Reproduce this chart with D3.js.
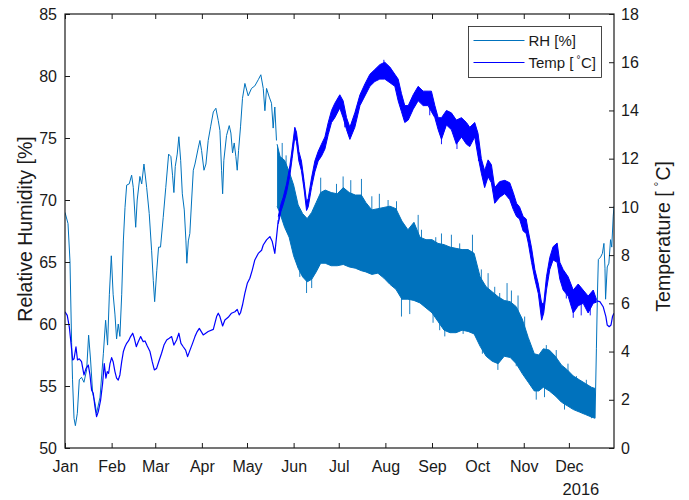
<!DOCTYPE html>
<html>
<head>
<meta charset="utf-8">
<script src="https://cdn.jsdelivr.net/npm/d3@7"></script>
<style>
  body { margin: 0; background: #fff; }
  text { font-family: "Liberation Sans", Arial, Helvetica, sans-serif; fill: #1a1a1a; }
</style>
</head>
<body>
<svg id="chart" width="689" height="500"></svg>
<script>
// all days are counted from 1 Jan 2016 (day 0)

// RH, thin part Jan - mid May
const rhDays = [0, 2, 3.3, 4.4, 5, 6, 6.9, 8.2, 9.5, 11, 12.6, 14.4, 15.7, 17, 18.4, 20, 21, 23.3, 25.5, 27,
  28.3, 29.5, 30.8, 32, 33.2, 34.3, 35.4, 36.5, 37.7, 38.8, 39.9, 41, 42.7, 44.3, 45.4, 47, 48, 49.8, 51, 52.5,
  54.3, 56, 57.6, 58.7, 59.6, 61, 62.2, 63.5, 65.3, 67, 68.9, 70.4, 71.5, 72.4, 73.3, 74.6, 75.7, 76.9, 78, 79.3,
  80.4, 81, 82, 83, 84.2, 85.3, 86.4, 88.6, 89.7, 90.8, 92.4, 93.7, 95.2, 96.8, 98.6, 100.3, 101.9, 103, 104.1, 104.8,
  105.6, 107.4, 109.2, 110.3, 111.4, 112.5, 113.6, 114.5, 115.4, 116.7, 118, 119.6, 121.8, 124, 126.2, 128.5, 130.2, 131.8, 132.9, 134,
  135.8, 137.3, 138.4, 139.5, 140.6];
const rhValues = [69.0, 68.1, 65.1, 58.5, 55.5, 52.4, 51.8, 52.8, 55.5, 55.7, 55.3, 56.3, 59.1, 57.1, 54.4, 53.6, 52.8, 54.1, 57.6, 60.3,
  58.3, 62.4, 65.5, 62.4, 60.8, 58.8, 60.0, 59.0, 62.4, 66.7, 69.4, 71.2, 71.3, 72.0, 71.0, 67.8, 70.0, 71.9, 71.3, 72.9,
  71.0, 68.9, 65.9, 63.5, 61.8, 64.3, 66.2, 66.2, 68.6, 71.0, 73.7, 73.5, 72.0, 70.6, 72.7, 73.7, 75.1, 73.2, 70.5, 69.2,
  66.7, 64.9, 66.7, 67.3, 70.0, 72.4, 72.9, 74.2, 74.8, 74.0, 72.4, 72.9, 74.8, 75.9, 77.1, 77.4, 76.4, 75.6, 72.4, 70.5,
  73.2, 75.2, 76.0, 75.4, 73.8, 74.6, 73.5, 72.4, 74.0, 75.9, 78.2, 79.4, 78.4, 79.0, 79.2, 79.7, 80.1, 79.0, 77.2, 79.0,
  78.3, 77.8, 75.8, 77.5, 74.8];

// RH, daily swing band late May - Dec (upper / lower envelope)
const rhBandDays = [141, 143, 146, 149, 152, 155, 158, 161, 164, 167, 170, 173, 177, 181, 185, 189, 193, 197, 200, 204,
  208, 212, 216, 220, 224, 228, 232, 236, 240, 244, 248, 252, 256, 260, 264, 268, 272, 276, 280, 284,
  288, 292, 296, 300, 304, 308, 312, 315, 318, 322, 326, 330, 334, 338, 342, 346, 350, 352.4];
const rhBandHigh = [74.5, 73.5, 73.2, 72.3, 71.2, 69.6, 68.9, 68.5, 69.0, 69.8, 70.6, 70.8, 70.6, 70.5, 71.0, 70.6, 70.4, 70.4, 69.8, 69.2,
  69.3, 69.4, 69.5, 69.3, 68.3, 67.6, 68.2, 67.0, 66.8, 66.8, 66.5, 66.4, 66.2, 66.1, 66.0, 66.0, 65.7, 63.8, 63.0, 62.6,
  62.2, 61.9, 61.8, 61.4, 60.4, 58.9, 57.6, 57.5, 58.0, 57.9, 57.4, 56.7, 56.3, 55.8, 55.5, 55.2, 54.9, 54.8];
const rhBandLow = [69.5, 68.9, 67.8, 67.0, 65.5, 64.5, 63.8, 63.4, 63.6, 64.2, 64.9, 64.9, 64.7, 64.7, 64.8, 64.6, 64.5, 64.3, 64.2, 64.0,
  64.1, 63.7, 63.2, 62.8, 62.0, 62.0, 61.9, 61.7, 61.3, 60.9, 60.2, 59.5, 59.3, 59.3, 59.5, 59.4, 59.2, 58.2, 57.4, 57.0,
  56.8, 57.4, 57.3, 56.8, 56.0, 55.3, 54.6, 54.6, 54.9, 54.6, 54.2, 53.7, 53.4, 53.1, 52.9, 52.7, 52.5, 52.4];

// RH, single extreme excursions sticking out of the band
const rhSpikeDays = [144.4, 147, 156.1, 160.6, 164, 170, 180.5, 184.9, 190, 197.1, 204, 209, 214.8, 220.4, 223.7, 229.2, 234.8, 237, 244.7, 246.5,
  249.1, 250.3, 252.5, 256.9, 262.4, 264.7, 270.9, 276.8, 277.5, 281.3, 285.7, 287.8, 289, 293.9, 296.8, 300, 301.2, 305.6, 313.3, 318.8,
  320, 326.6, 332.1, 334.4, 340, 346.6, 350];
const rhSpikeValues = [74.6, 73.6, 63.8, 62.5, 62.9, 71.8, 71.3, 71.9, 71.6, 71.7, 70.3, 70.5, 70.0, 69.9, 60.6, 60.8, 68.8, 67.6, 60.1, 67.0,
  59.5, 67.3, 59.0, 67.2, 66.5, 59.2, 67.2, 64.4, 57.6, 64.1, 63.0, 56.3, 62.5, 63.3, 62.7, 56.6, 62.3, 60.6, 53.9, 54.1,
  58.3, 57.9, 53.1, 56.8, 55.8, 55.5, 52.4];

// RH, thin part end of Dec
const rhEndDays = [352.4, 353.3, 354, 354.6, 356.1, 357.3, 358.3, 359, 359.4, 360.5, 361.6, 362.7, 363.5, 364.5, 365];
const rhEndValues = [52.4, 58.0, 62.5, 65.2, 65.4, 65.7, 66.5, 64.5, 62.0, 64.6, 64.9, 66.8, 66.2, 68.7, 69.5];

// Temperature, thin part Jan - mid May
const tempDays = [0, 1.5, 2.9, 4, 5.1, 6, 7.3, 8.3, 9.5, 11, 12.6, 14, 15.5, 16.6, 17.7, 18.8, 19.9, 21, 22.1, 23.7,
  25, 26.1, 27.2, 28.1, 29, 29.9, 31, 32, 33.2, 34.3, 35.4, 36.5, 37.7, 38.8, 39.9, 41, 42.3, 43.6, 45, 46.1,
  47.4, 48.7, 50.3, 52, 53.2, 54.7, 56.5, 58, 59.4, 60.9, 62.7, 64.2, 65.8, 67.6, 69.3, 70.9, 72.4, 74.2, 75.7, 77.1,
  78.6, 80.2, 81.5, 83.1, 84.8, 86.4, 87.9, 89.3, 91.9, 95.2, 98.6, 100.8, 101.9, 103, 104.8, 106.3, 108.5, 110.7, 113, 114.5,
  115.8, 116.7, 118, 119.6, 121.2, 122.9, 124.5, 126.2, 128.5, 130.7, 131.8, 134, 136.2, 137.8, 139.5, 141.8];
const tempValues = [5.65, 5.5, 5.0, 4.34, 3.65, 3.7, 4.2, 3.65, 3.7, 3.58, 3.03, 3.3, 3.44, 3.03, 2.4, 2.27, 1.71, 1.3, 1.5, 2.0,
  2.68, 3.5, 2.9, 3.17, 3.1, 3.5, 3.75, 3.58, 3.17, 2.9, 2.82, 3.03, 3.58, 4.0, 4.2, 4.34, 4.45, 4.62, 4.76, 4.55,
  4.2, 4.41, 4.62, 4.41, 4.44, 4.23, 4.0, 3.58, 3.24, 3.3, 3.65, 3.93, 4.27, 4.48, 4.55, 4.62, 4.27, 4.48, 4.76, 4.34,
  4.2, 4.06, 3.79, 4.06, 4.34, 4.62, 4.83, 4.96, 4.69, 4.83, 4.92, 5.45, 5.59, 5.45, 5.06, 5.31, 5.42, 5.59, 5.65, 5.75,
  5.52, 5.61, 5.93, 6.42, 6.83, 7.04, 7.38, 7.8, 8.07, 8.2, 8.42, 8.63, 8.77, 8.56, 8.07, 9.45];

// Temperature, daily swing band Jun - Dec (upper / lower envelope)
const tempBandDays = [141.8, 143.5, 145.1, 147.3, 149.5, 151, 152.8, 153.9, 155.5, 157.2, 159, 160.6, 161.7, 163.9, 166.1, 168.3, 170.5, 172.8, 175, 177.2,
  179.4, 182.7, 184.9, 187.2, 189.4, 192.7, 196.1, 199.4, 202.7, 206, 209.3, 212.6, 216, 219.3, 221.5, 223.7, 225.9, 228.2, 231.5, 234.8,
  238.1, 241.4, 243.6, 245.9, 248.1, 250.3, 253.6, 256.9, 260.2, 263.6, 266.9, 269.1, 272.4, 274.6, 276.8, 279, 281.3, 283.5, 285.7, 289,
  292.4, 295.7, 298, 300.2, 302.2, 304.6, 306.6, 308, 310.2, 312.4, 314.7, 316.9, 318.3, 320.1, 322.3, 324.5, 327.2, 329, 331.2, 334.5,
  337.9, 341.2, 344.5, 347.8, 351.2, 353.4];
const tempBandHigh = [9.6, 10.1, 10.4, 10.95, 11.7, 12.4, 13.3, 13.1, 12.3, 11.9, 11.05, 10.2, 10.35, 11.2, 11.9, 12.3, 12.6, 12.9, 13.5, 14.0,
  14.3, 14.65, 14.4, 13.7, 13.3, 13.9, 14.65, 15.1, 15.5, 15.7, 15.9, 16.0, 15.8, 15.5, 15.3, 14.7, 14.2, 14.2, 14.65, 15.0,
  14.8, 14.8, 14.8, 14.2, 13.7, 13.7, 14.0, 13.9, 13.6, 13.7, 13.5, 13.3, 13.5, 13.05, 12.0, 11.5, 11.95, 11.75, 10.8, 11.05,
  11.1, 11.0, 10.6, 10.15, 10.0, 9.6, 9.5, 9.0, 8.3, 7.4, 6.8, 6.0, 6.0, 7.1, 7.9, 8.35, 8.5, 7.7, 7.4, 7.1,
  6.55, 6.8, 6.55, 6.3, 6.55, 6.15];
const tempBandLow = [9.3, 9.8, 10.1, 10.6, 11.3, 12.0, 12.9, 12.7, 11.9, 11.5, 10.7, 9.85, 10.0, 10.8, 11.45, 11.9, 12.1, 12.4, 13.0, 13.5,
  13.7, 14.1, 13.7, 13.2, 12.8, 13.3, 14.2, 14.6, 15.0, 15.2, 15.3, 15.3, 15.15, 15.0, 14.4, 13.95, 13.5, 13.6, 14.05, 14.4,
  14.2, 14.2, 13.95, 13.7, 13.2, 12.8, 13.4, 13.2, 12.6, 12.9, 12.6, 12.5, 12.9, 12.1, 11.4, 10.8, 11.25, 11.0, 10.15, 10.4,
  10.55, 10.3, 9.9, 9.6, 9.5, 9.0, 8.9, 8.5, 7.7, 7.0, 6.4, 5.3, 5.6, 6.55, 7.4, 7.8, 7.7, 7.0, 6.55, 6.3,
  5.6, 5.9, 6.0, 5.6, 6.0, 6.05];

// Temperature, single excursions out of the band
const tempSpikeDays = [186, 212, 242.5, 250.3, 260.6, 274.9, 333.3, 337.9, 343.2, 349.2];
const tempSpikeValues = [13.3, 16.1, 13.8, 12.6, 12.4, 11.9, 6.2, 5.4, 5.5, 5.5];

// Temperature, thin part end of Dec
const tempEndDays = [353.4, 355.6, 357.8, 359.6, 360.5, 361.8, 363, 364, 365];
const tempEndValues = [6.1, 6.07, 5.86, 5.45, 5.1, 5.03, 5.1, 5.45, 5.59];

const rhTicks = [50, 55, 60, 65, 70, 75, 80, 85];
const tempTicks = [0, 2, 4, 6, 8, 10, 12, 14, 16, 18];
const yearLabel = '2016';

const rhColor = '#0072BD';
const tempColor = '#0000FF';
const axisColor = '#1a1a1a';

const margin = { top: 14, right: 75, bottom: 52, left: 65 };
const width = 689 - margin.left - margin.right;
const height = 500 - margin.top - margin.bottom;

const t0 = Date.UTC(2016, 0, 1);
const toDate = d => new Date(t0 + d * 864e5);

const x = d3.scaleUtc()
  .domain([new Date(t0), new Date(Date.UTC(2016, 11, 31))])
  .range([0, width]);
const yRH = d3.scaleLinear().domain([50, 85]).range([height, 0]);
const yT = d3.scaleLinear().domain([0, 18]).range([height, 0]);

const svg = d3.select('#chart');
const g = svg.append('g').attr('transform', `translate(${margin.left},${margin.top})`);

g.append('clipPath').attr('id', 'plot-clip')
  .append('rect').attr('width', width).attr('height', height);
const plot = g.append('g').attr('clip-path', 'url(#plot-clip)');

function pts(days, vals) {
  return days.map((d, i) => [toDate(d), vals[i]]);
}
function band(days, hi, lo) {
  return days.map((d, i) => ({ t: toDate(d), hi: hi[i], lo: lo[i] }));
}

// draws one series: thin segments, the swing band and its spikes
function drawSeries(y, color, thinWidth, segs, bandDays, hi, lo, spikeDays, spikeVals) {
  const line = d3.line().x(p => x(p[0])).y(p => y(p[1]));
  const area = d3.area().x(p => x(p.t)).y0(p => y(p.lo)).y1(p => y(p.hi));
  const b = band(bandDays, hi, lo);
  // middle of the band, only used as the foot of each spike
  const mid = d3.scaleLinear().domain(bandDays).range(bandDays.map((d, i) => (hi[i] + lo[i]) / 2));

  plot.append('g').selectAll('line').data(spikeDays).join('line')
    .attr('x1', d => x(toDate(d))).attr('x2', d => x(toDate(d)))
    .attr('y1', d => y(mid(d)))
    .attr('y2', (d, i) => y(spikeVals[i]))
    .attr('stroke', color).attr('stroke-width', 0.9);

  plot.append('path').datum(b).attr('d', area).attr('fill', color);
  [b.map(p => [p.t, p.hi]), b.map(p => [p.t, p.lo])].forEach(edge => {
    plot.append('path').datum(edge).attr('d', line)
      .attr('fill', 'none').attr('stroke', color).attr('stroke-width', 1);
  });
  segs.forEach(seg => {
    plot.append('path').datum(seg).attr('d', line)
      .attr('fill', 'none').attr('stroke', color).attr('stroke-width', thinWidth)
      .attr('stroke-linejoin', 'round');
  });
}

drawSeries(yRH, rhColor, 1, [pts(rhDays, rhValues), pts(rhEndDays, rhEndValues)],
  rhBandDays, rhBandHigh, rhBandLow, rhSpikeDays, rhSpikeValues);
drawSeries(yT, tempColor, 1.2, [pts(tempDays, tempValues), pts(tempEndDays, tempEndValues)],
  tempBandDays, tempBandHigh, tempBandLow, tempSpikeDays, tempSpikeValues);

// ---- axes (ticks point inward, box all round)
const months = d3.utcMonth.range(new Date(t0), new Date(Date.UTC(2017, 0, 1)));

function styleAxis(sel) {
  sel.select('.domain').remove();
  sel.selectAll('line').attr('stroke', axisColor);
  sel.selectAll('text').attr('font-size', 16).attr('fill', axisColor);
}

g.append('g').attr('transform', `translate(0,${height})`)
  .call(d3.axisBottom(x).tickValues(months).tickFormat(d3.utcFormat('%b'))
    .tickSizeInner(-5).tickSizeOuter(0).tickPadding(12.3))
  .call(styleAxis);
g.append('g')
  .call(d3.axisTop(x).tickValues(months).tickFormat('').tickSizeInner(-5).tickSizeOuter(0))
  .call(styleAxis);
g.append('g')
  .call(d3.axisLeft(yRH).tickValues(rhTicks).tickSizeInner(-5).tickSizeOuter(0).tickPadding(8))
  .call(styleAxis);
g.append('g').attr('transform', `translate(${width},0)`)
  .call(d3.axisRight(yT).tickValues(tempTicks).tickSizeInner(-5).tickSizeOuter(0).tickPadding(7))
  .call(styleAxis);

g.append('rect')
  .attr('x', 0).attr('y', 0).attr('width', width).attr('height', height)
  .attr('fill', 'none').attr('stroke', axisColor).attr('stroke-width', 1.2);

g.append('text')
  .attr('x', x(toDate(343))).attr('y', height + 47)
  .attr('text-anchor', 'middle').attr('font-size', 16.5)
  .text(yearLabel);

// ---- axis titles
g.append('text')
  .attr('transform', `translate(${32 - margin.left},${height / 2 - 2}) rotate(-90)`)
  .attr('text-anchor', 'middle').attr('font-size', 19.5)
  .text('Relative Humidity [%]');

const tTitle = g.append('text')
  .attr('transform', `translate(${width + 56},297.7) rotate(-90)`)
  .attr('font-size', 19.5);
tTitle.append('tspan').text('Temperature [');
tTitle.append('tspan').attr('dx', 5).attr('dy', -7).attr('font-size', 12).text('°');
tTitle.append('tspan').attr('dx', 1).attr('dy', 7).text('C]');

// ---- legend
const legend = g.append('g').attr('transform', `translate(${width - 145.5},12.5)`);
legend.append('rect')
  .attr('width', 133).attr('height', 51)
  .attr('fill', '#fff').attr('stroke', axisColor).attr('stroke-width', 0.8);
const items = [
  { label: 'RH [%]', color: rhColor },
  { label: 'Temp [', color: tempColor, deg: true }
];
items.forEach((it, i) => {
  const yy = 14 + i * 22;
  legend.append('line')
    .attr('x1', 5).attr('x2', 56).attr('y1', yy).attr('y2', yy)
    .attr('stroke', it.color).attr('stroke-width', 1);
  const t = legend.append('text').attr('x', 60).attr('y', yy + 5.3).attr('font-size', 15);
  t.append('tspan').text(it.label);
  if (it.deg) {
    t.append('tspan').attr('dx', 3).attr('dy', -5).attr('font-size', 10).text('°');
    t.append('tspan').attr('dx', 0.5).attr('dy', 5).text('C]');
  }
});
</script>
</body>
</html>
